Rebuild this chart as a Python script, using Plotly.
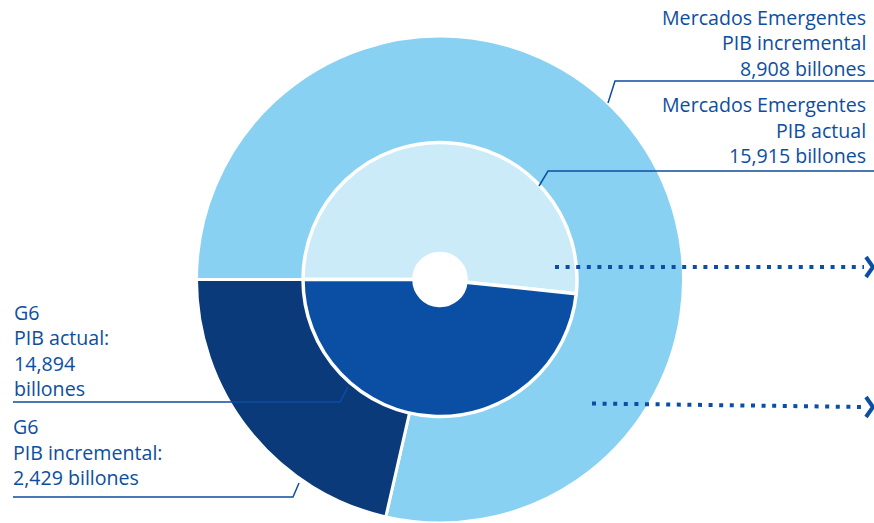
import plotly.graph_objects as go

# ---- data -------------------------------------------------------------
groups = ["Mercados Emergentes", "G6"]
pib_actual = [15915, 14894]        # inner pie (billones)
pib_incremental = [8908, 2429]     # outer ring (billones)

label_blocks = [
    ["Mercados Emergentes", "PIB incremental", "8,908 billones"],
    ["Mercados Emergentes", "PIB actual", "15,915 billones"],
    ["G6", "PIB actual:", "14,894", "billones"],
    ["G6", "PIB incremental:", "2,429 billones"],
]

# ---- layout constants (pixels) ----------------------------------------
W, H = 874, 523
CX, CY = 440, 279.5
R_OUT, R_IN = 243.5, 137

TEXT_BLUE = "#0D4E9E"
DOT_BLUE = "#0A4FA3"
COL_OUT = ["#89D1F2", "#0A3A7A"]
COL_IN = ["#CCEBF8", "#0A4FA3"]

FONT_FAMILY = "Open Sans"
FONT_SIZE = 19.6
LINE_PITCH = 25.5
# (x, first baseline, anchor) for each text block
BLOCK_POS = [
    (868, 26, "right"),
    (868, 113.5, "right"),
    (12, 321, "left"),
    (11, 435.5, "left"),
]


def domain(cx, cy, r):
    x0, x1 = (cx - r) / W, (cx + r) / W
    y0, y1 = 1 - (cy + r) / H, 1 - (cy - r) / H
    clamp = lambda v: min(max(v, 0.0), 1.0)
    return dict(x=[clamp(x0), clamp(x1)], y=[clamp(y0), clamp(y1)])


fig = go.Figure()

# outer ring: incremental GDP (G6 wedge hangs below 9 o'clock)
fig.add_trace(go.Pie(
    labels=groups, values=pib_incremental, sort=False,
    direction="counterclockwise", rotation=270,
    hole=0.5, domain=domain(CX, CY, R_OUT),
    marker=dict(colors=COL_OUT, line=dict(color="white", width=3)),
    textinfo="none", hoverinfo="label+value", showlegend=False,
))

# inner pie: current GDP
fig.add_trace(go.Pie(
    labels=groups, values=pib_actual, sort=False,
    direction="counterclockwise", rotation=270,
    hole=0.19, domain=domain(CX, CY, R_IN),
    marker=dict(colors=COL_IN, line=dict(color="white", width=3.5)),
    textinfo="none", hoverinfo="label+value", showlegend=False,
))

# pixel-space axes for the callouts
fig.update_xaxes(range=[0, W], visible=False, fixedrange=True)
fig.update_yaxes(range=[H, 0], visible=False, fixedrange=True)

lead = dict(color=TEXT_BLUE, width=1.5)
leaders = [
    "M 874 81 L 615 81 L 608 103",
    "M 874 171 L 548 171 L 539 186",
    "M 13 402 L 340 402 L 348 387",
    "M 13 497 L 293 497 L 299 483",
]
shapes = [dict(type="path", path=p, xref="x", yref="y", line=lead, layer="above")
          for p in leaders]

dots = dict(color=DOT_BLUE, width=4, dash="4px,6.6px")
shapes += [
    dict(type="line", x0=555, y0=267, x1=864, y1=267, xref="x", yref="y",
         line=dots, layer="above"),
    dict(type="line", x0=592, y0=403.5, x1=864, y1=407, xref="x", yref="y",
         line=dots, layer="above"),
    dict(type="path", path="M 866 257 L 873 267 L 866 277", xref="x", yref="y",
         line=dict(color=DOT_BLUE, width=4), layer="above"),
    dict(type="path", path="M 866 397 L 873 407 L 866 417", xref="x", yref="y",
         line=dict(color=DOT_BLUE, width=4), layer="above"),
]

font = dict(family=FONT_FAMILY, size=FONT_SIZE, color=TEXT_BLUE)
descent = 0.293 * FONT_SIZE + 1  # box bottom sits this far below the baseline
annotations = []
for lines, (x, base, side) in zip(label_blocks, BLOCK_POS):
    for i, line in enumerate(lines):
        annotations.append(dict(
            text=line, x=x, y=base + i * LINE_PITCH + descent,
            xanchor=side, yanchor="bottom", align=side,
            xref="x", yref="y", showarrow=False, font=font,
        ))

fig.update_layout(
    width=W, height=H, margin=dict(l=0, r=0, t=0, b=0),
    paper_bgcolor="white", plot_bgcolor="white",
    shapes=shapes, annotations=annotations,
)

fig.write_html("out.html")
